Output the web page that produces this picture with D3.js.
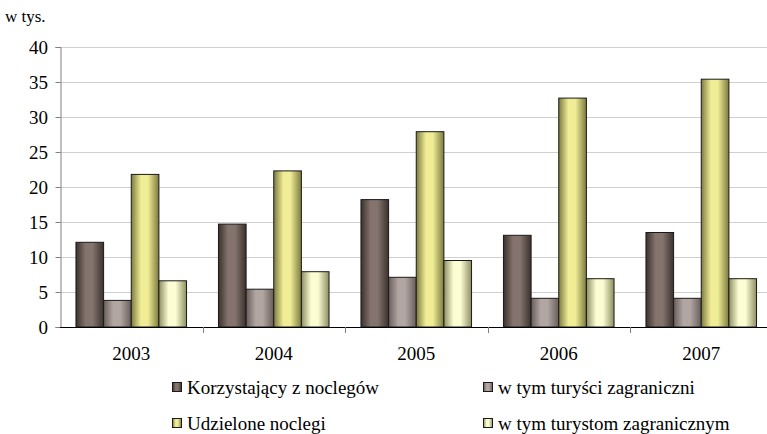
<!DOCTYPE html>
<html>
<head>
<meta charset="utf-8">
<script src="https://cdn.jsdelivr.net/npm/d3@7"></script>
</head>
<body style="margin:0;background:#fff">
<div id="chart"></div>
<script>
'use strict';

const years = ['2003', '2004', '2005', '2006', '2007'];
const seriesNames = ['Korzystający z noclegów', 'w tym turyści zagraniczni',
    'Udzielone noclegi', 'w tym turystom zagranicznym'];
const korzystajacy = [12.1, 14.7, 18.2, 13.1, 13.5];
const turysciZagr = [3.8, 5.4, 7.1, 4.1, 4.1];
const noclegi = [21.8, 22.3, 27.9, 32.7, 35.4];
const noclegiZagr = [6.6, 7.9, 9.5, 6.9, 6.9];
const yTicks = [0, 5, 10, 15, 20, 25, 30, 35, 40];

const seriesValues = [korzystajacy, turysciZagr, noclegi, noclegiZagr];
// dark edge, light middle, for each series
const shades = [
    ['#3b312d', '#84746d'],
    ['#685d59', '#b1a6a2'],
    ['#7c7a3e', '#f0ed96'],
    ['#8e8e62', '#fdfdd4']
];

const FS = 19;
const width = 767, height = 434;
const svg = d3.select('#chart').append('svg')
    .attr('width', width)
    .attr('height', height);

// text goes straight on the svg root, the serif face is lost inside groups
function label(txt, px, py, size, anchor) {
    return svg.append('text')
        .attr('x', px)
        .attr('y', py)
        .attr('font-size', size)
        .attr('text-anchor', anchor)
        .attr('fill', '#000')
        .style('font-family', '"Liberation Serif"')
        .text(txt);
}

const defs = svg.append('defs');
shades.forEach((s, i) => {
    const g = defs.append('linearGradient')
        .attr('id', 'grad' + i)
        .attr('x1', '0%').attr('x2', '100%')
        .attr('y1', '0%').attr('y2', '0%');
    g.append('stop').attr('offset', '0%').attr('stop-color', s[0]);
    g.append('stop').attr('offset', '35%').attr('stop-color', s[1]);
    g.append('stop').attr('offset', '60%').attr('stop-color', s[1]);
    g.append('stop').attr('offset', '100%').attr('stop-color', s[0]);
});

const x = d3.scaleBand()
    .domain(years)
    .range([60, 772.5])
    .paddingInner(0.224)
    .paddingOuter(0.112);

const xInner = d3.scaleBand()
    .domain(d3.range(seriesNames.length))
    .range([0, x.bandwidth()]);

const y = d3.scaleLinear()
    .domain([0, 40])
    .range([327, 47]);

// gridlines
svg.append('g')
    .selectAll('line')
    .data(yTicks.filter(d => d > 0))
    .join('line')
    .attr('x1', 60).attr('x2', width)
    .attr('y1', d => Math.round(y(d)) + 0.5)
    .attr('y2', d => Math.round(y(d)) + 0.5)
    .attr('stroke', '#cfcfcf')
    .attr('stroke-width', 1);

// y axis (lines from d3, labels on the root)
const yAxis = svg.append('g')
    .attr('transform', 'translate(60.5,0)')
    .call(d3.axisLeft(y).tickValues(yTicks).tickSize(5).tickFormat(''));
yAxis.select('.domain').attr('stroke', '#808080');
yAxis.selectAll('.tick line').attr('stroke', '#808080');
yTicks.forEach(d => {
    label(String(d), 48, y(d) + 6.5, FS, 'end');
});

// bars
const groups = svg.append('g')
    .selectAll('g')
    .data(years)
    .join('g')
    .attr('transform', d => `translate(${x(d)},0)`);

groups.selectAll('rect')
    .data((yr, yi) => seriesValues.map((vals, si) => ({si, v: vals[yi]})))
    .join('rect')
    .attr('x', d => xInner(d.si))
    .attr('width', xInner.bandwidth())
    .attr('y', d => y(d.v))
    .attr('height', d => y(0) - y(d.v))
    .attr('fill', d => `url(#grad${d.si})`)
    .attr('stroke', '#1a1a1a')
    .attr('stroke-width', 1);

// x axis
const xAxis = svg.append('g')
    .attr('transform', `translate(0,${y(0) + 0.5})`)
    .call(d3.axisBottom(x).tickSize(0).tickFormat(''));
xAxis.select('.domain').attr('stroke', '#000').attr('d', `M60,0H${width}`);
years.forEach(d => {
    label(d, x(d) + x.bandwidth() / 2, y(0) + 33, FS, 'middle');
});

// category separators
const step = x.step();
svg.append('g')
    .selectAll('line')
    .data(years.slice(1))
    .join('line')
    .attr('x1', d => Math.round(x(d) - x.paddingInner() * step / 2) + 0.5)
    .attr('x2', d => Math.round(x(d) - x.paddingInner() * step / 2) + 0.5)
    .attr('y1', y(0))
    .attr('y2', y(0) + 6)
    .attr('stroke', '#808080');

// unit label
label('w tys.', 5, 22, 17, 'start');

// legend
const legendPos = [[172, 387], [483, 387], [172, 423], [483, 423]];
svg.append('g')
    .selectAll('rect')
    .data(seriesNames)
    .join('rect')
    .attr('x', (d, i) => legendPos[i][0] + 0.5)
    .attr('y', (d, i) => legendPos[i][1] - 4.5)
    .attr('width', 9).attr('height', 9)
    .attr('fill', (d, i) => `url(#grad${i})`)
    .attr('stroke', '#1a1a1a');

seriesNames.forEach((d, i) => {
    label(d, legendPos[i][0] + 15, legendPos[i][1] + 6.5, FS, 'start');
});
</script>
</body>
</html>
